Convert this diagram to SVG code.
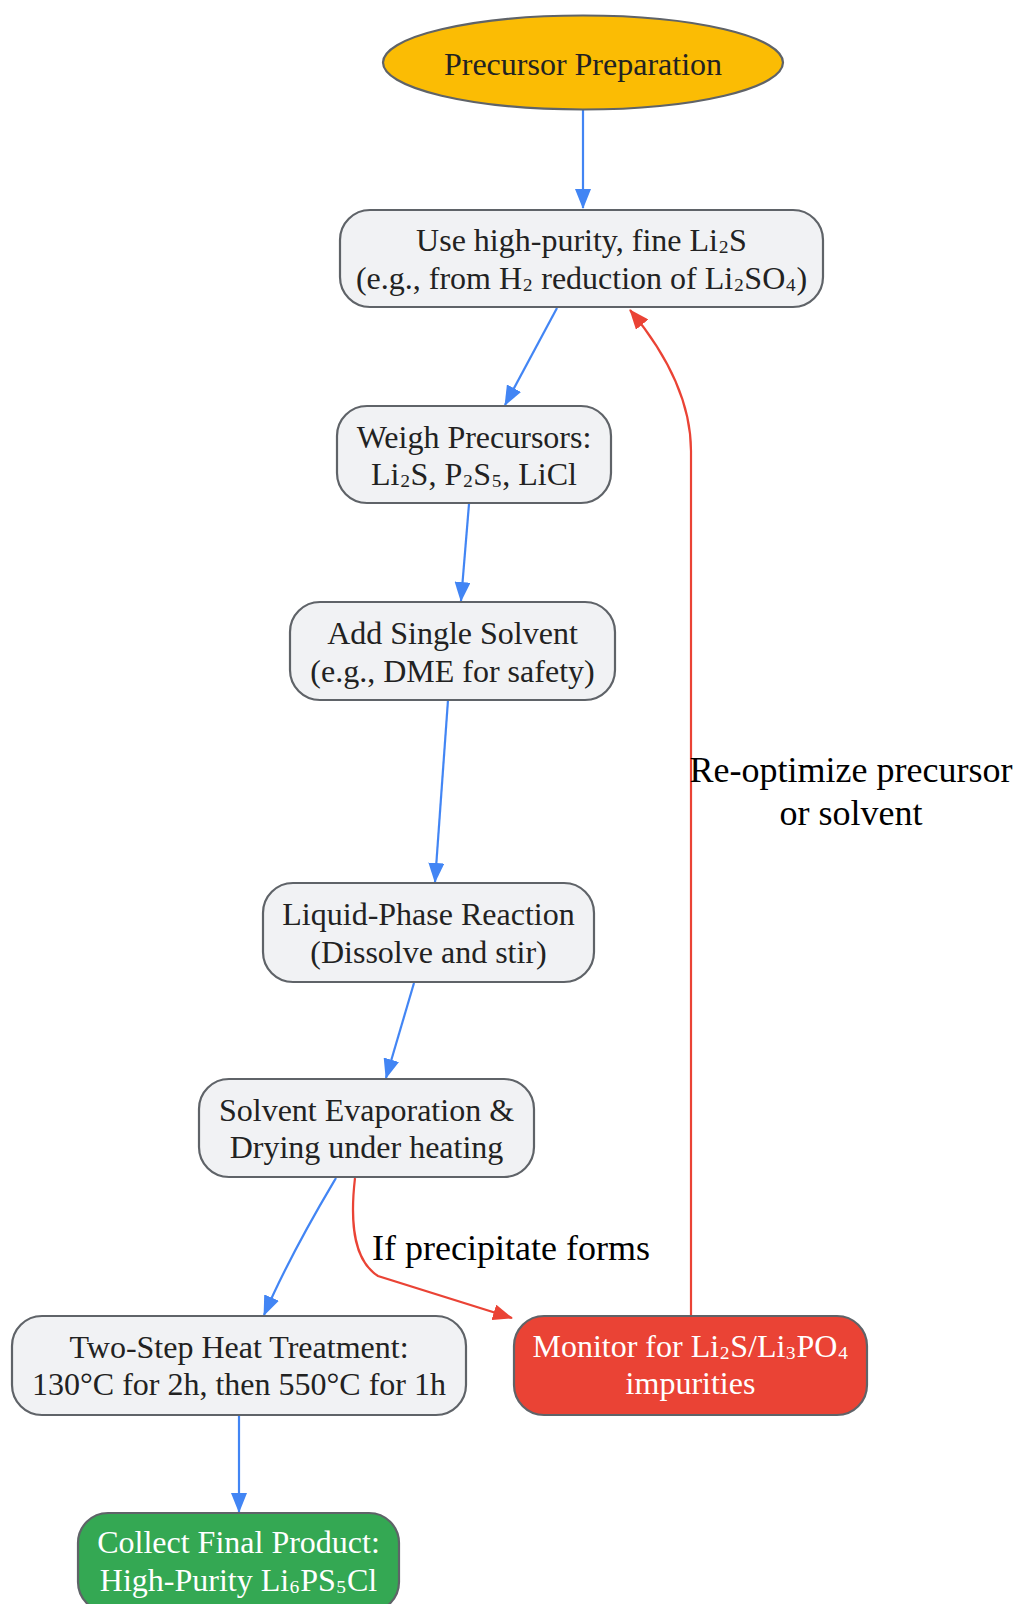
<svg xmlns="http://www.w3.org/2000/svg" width="1024" height="1604" viewBox="0 0 1024 1604">
<defs>
<marker id="ab" viewBox="0 0 20 16" refX="19" refY="8" markerWidth="20" markerHeight="16" markerUnits="userSpaceOnUse" orient="auto"><path d="M0,0 L20,8 L0,16 z" fill="#4285F4"/></marker>
<marker id="ar" viewBox="0 0 20 16" refX="19" refY="8" markerWidth="20" markerHeight="16" markerUnits="userSpaceOnUse" orient="auto"><path d="M0,0 L20,8 L0,16 z" fill="#EA4335"/></marker>
</defs>
<style>
.n{fill:#F1F2F4;stroke:#5F6368;stroke-width:2.2}
.t{font-family:"Liberation Serif","Times New Roman",serif;font-size:32px;fill:#222;text-anchor:middle}
.w{fill:#fff}
.l{font-family:"Liberation Serif","Times New Roman",serif;font-size:36px;fill:#000;text-anchor:middle}
.eb{fill:none;stroke:#4285F4;stroke-width:2.2}
.er{fill:none;stroke:#EA4335;stroke-width:2.2}
</style>
<rect width="1024" height="1604" fill="#fff"/>
<g id="edges">
<path class="eb" d="M583,110 L583,208" marker-end="url(#ab)"/>
<path class="eb" d="M557,308 L505,405" marker-end="url(#ab)"/>
<path class="eb" d="M469,504 L461,601" marker-end="url(#ab)"/>
<path class="eb" d="M448,700 L435,882" marker-end="url(#ab)"/>
<path class="eb" d="M414,983 L386,1078" marker-end="url(#ab)"/>
<path class="eb" d="M336,1178 C320,1205 290,1255 264,1315" marker-end="url(#ab)"/>
<path class="eb" d="M239,1416 L239,1512" marker-end="url(#ab)"/>
<path class="er" d="M355,1178 C349,1230 356,1262 378,1276 L512,1318" marker-end="url(#ar)"/>
<path class="er" d="M691,1316 L691,451 C691,400 665,352 630,310" marker-end="url(#ar)"/>
</g>
<g id="edge-labels">
<text class="l" x="851" y="782">Re-optimize precursor</text>
<text class="l" x="851" y="825">or solvent</text>
<text class="l" x="511" y="1260">If precipitate forms</text>
</g>
<g id="start">
<ellipse cx="583" cy="62.5" rx="200" ry="47" fill="#FBBC04" stroke="#5F6368" stroke-width="2.2"/>
<text class="t" x="583" y="75">Precursor Preparation</text>
</g>
<g id="li2s">
<rect class="n" x="340" y="210" width="483" height="97" rx="30"/>
<text class="t" x="581.5" y="251">Use high-purity, fine Li<tspan dy="-4">₂</tspan><tspan dy="4">S</tspan></text>
<text class="t" x="581.5" y="289">(e.g., from H<tspan dy="-4">₂</tspan><tspan dy="4"> reduction of Li</tspan><tspan dy="-4">₂</tspan><tspan dy="4">SO</tspan><tspan dy="-4">₄</tspan><tspan dy="4">)</tspan></text>
</g>
<g id="weigh">
<rect class="n" x="337" y="406" width="274" height="97" rx="30"/>
<text class="t" x="474" y="448">Weigh Precursors:</text>
<text class="t" x="474" y="485">Li<tspan dy="-4">₂</tspan><tspan dy="4">S, P</tspan><tspan dy="-4">₂</tspan><tspan dy="4">S</tspan><tspan dy="-4">₅</tspan><tspan dy="4">, LiCl</tspan></text>
</g>
<g id="solvent">
<rect class="n" x="290" y="602" width="325" height="98" rx="30"/>
<text class="t" x="452.5" y="644">Add Single Solvent</text>
<text class="t" x="452.5" y="682">(e.g., DME for safety)</text>
</g>
<g id="reaction">
<rect class="n" x="263" y="883" width="331" height="99" rx="30"/>
<text class="t" x="428.5" y="925">Liquid-Phase Reaction</text>
<text class="t" x="428.5" y="963">(Dissolve and stir)</text>
</g>
<g id="evap">
<rect class="n" x="199" y="1079" width="335" height="98" rx="30"/>
<text class="t" x="366.5" y="1121">Solvent Evaporation &amp;</text>
<text class="t" x="366.5" y="1158">Drying under heating</text>
</g>
<g id="heat">
<rect class="n" x="12" y="1316" width="454" height="99" rx="30"/>
<text class="t" x="239" y="1358">Two-Step Heat Treatment:</text>
<text class="t" x="239" y="1395">130°C for 2h, then 550°C for 1h</text>
</g>
<g id="monitor">
<rect class="n" x="514" y="1316" width="353" height="99" rx="30" style="fill:#EA4335"/>
<text class="t w" x="690.5" y="1357">Monitor for Li<tspan dy="-4">₂</tspan><tspan dy="4">S/Li</tspan><tspan dy="-4">₃</tspan><tspan dy="4">PO</tspan><tspan dy="-4">₄</tspan></text>
<text class="t w" x="690.5" y="1394">impurities</text>
</g>
<g id="collect">
<rect class="n" x="78" y="1513" width="321" height="99" rx="30" style="fill:#34A853"/>
<text class="t w" x="238.5" y="1553">Collect Final Product:</text>
<text class="t w" x="238.5" y="1591">High-Purity Li<tspan dy="-4">₆</tspan><tspan dy="4">PS</tspan><tspan dy="-4">₅</tspan><tspan dy="4">Cl</tspan></text>
</g>
</svg>
